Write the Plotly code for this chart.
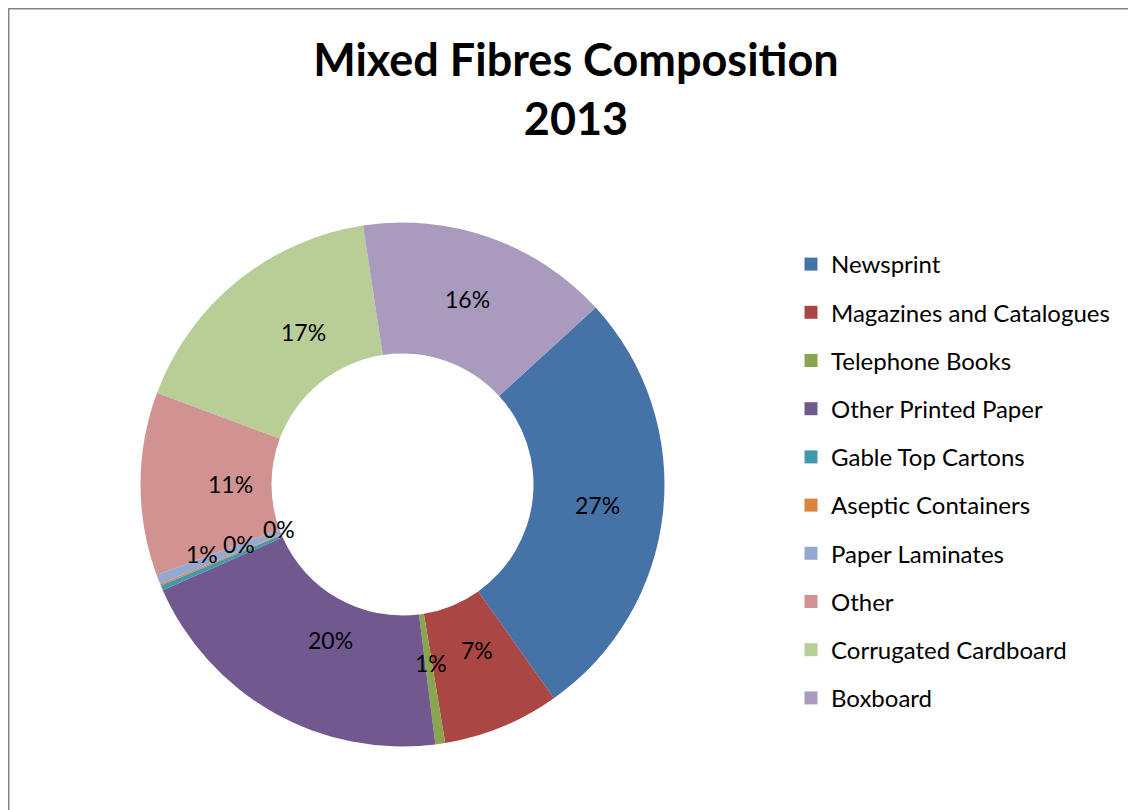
import math
import plotly.graph_objects as go

categories = ["Newsprint", "Magazines and Catalogues", "Telephone Books", "Other Printed Paper",
              "Gable Top Cartons", "Aseptic Containers", "Paper Laminates", "Other",
              "Corrugated Cardboard", "Boxboard"]
values = [27.0, 7.2, 0.6, 20.4, 0.3, 0.1, 0.6, 11.3, 16.9, 15.6]
colors = ["#4572A7", "#AA4643", "#89A54E", "#71588F", "#4198AF", "#DB843D",
          "#93A9CF", "#D19392", "#B9CD96", "#A99BBD"]

# page body has an 8px margin, so the figure is 1128x802 and starts at (8, 8)
W, H = 1128, 802
FONT = "Lato"
cx, cy, R = 394.5, 476.5, 262.0   # pie centre / radius in figure pixels
hole = 0.5
start = 47.5                        # first slice start angle (deg, clockwise from 12 o'clock)
# radial offset (px) of label from ring middle, to unclutter tiny slices
label_shift = [0, 0, 0, 0, -42, 0, 38, 0, 0, 0]

fig = go.Figure()
fig.add_trace(go.Pie(
    labels=categories, values=values, marker=dict(colors=colors, line=dict(width=0)),
    hole=hole, sort=False, direction="clockwise", rotation=start,
    textinfo="none", showlegend=False, hoverinfo="label+percent",
    domain=dict(x=[(cx - R) / W, (cx + R) / W], y=[(H - cy - R) / H, (H - cy + R) / H]),
))

# legend via placeholder traces (gives Excel-like spacing)
for name, c in zip(categories, colors):
    fig.add_trace(go.Scatter(x=[None], y=[None], mode="markers", name=name, legendgroup=name,
                             marker=dict(symbol="square", size=13, color=c)))

total = sum(values)
acc = 0.0
annotations = []
rmid = R * (1 + hole) / 2
for v, shift in zip(values, label_shift):
    mid = start + (acc + v / 2) / total * 360
    acc += v
    r = rmid + shift
    x = cx + r * math.sin(math.radians(mid))
    y = cy - r * math.cos(math.radians(mid))
    pct = int(v / total * 100 + 0.5)
    annotations.append(dict(x=x / W, y=1 - y / H, xref="paper", yref="paper",
                            text=f"{pct}%", showarrow=False,
                            font=dict(family=FONT, size=23, color="#000000")))

fig.update_layout(
    width=W, height=H, margin=dict(l=0, r=0, t=0, b=0),
    paper_bgcolor="white", plot_bgcolor="white",
    xaxis=dict(visible=False), yaxis=dict(visible=False),
    title=dict(text="<b>Mixed Fibres Composition<br>2013</b>", x=568 / W, xanchor="center",
               y=1 - 68 / H, yanchor="top", font=dict(family=FONT, size=45, color="#000000")),
    legend=dict(x=783 / W, y=1 - 234 / H, xanchor="left", yanchor="top",
                font=dict(family=FONT, size=24, color="#000000"), tracegroupgap=14,
                bgcolor="rgba(0,0,0,0)"),
    annotations=annotations,
    shapes=[dict(type="rect", xref="paper", yref="paper", x0=0.5 / W, x1=1.2,
                 y0=-0.2, y1=1 - 0.5 / H, line=dict(color="#868686", width=2),
                 fillcolor="rgba(0,0,0,0)")],
)

fig.write_html("out.html")
